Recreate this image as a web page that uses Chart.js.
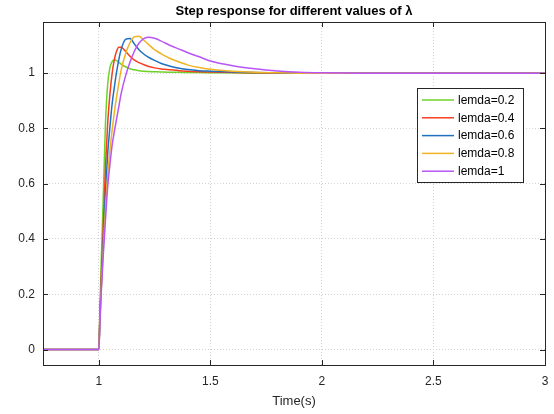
<!DOCTYPE html>
<html>
<head>
<meta charset="utf-8">
<script src="https://cdn.jsdelivr.net/npm/chart.js@4/dist/chart.umd.min.js"></script>
<style>
  html, body { margin: 0; padding: 0; background: #fff; }
  #wrap { width: 554px; height: 414px; }
</style>
</head>
<body>
<div id="wrap"><canvas id="c" width="554" height="414"></canvas></div>
<script>
const titleText = 'Step response for different values of \u03bb';
const xLabel = 'Time(s)';
const seriesLabels = ['lemda=0.2', 'lemda=0.4', 'lemda=0.6', 'lemda=0.8', 'lemda=1'];
const seriesColors = ['#6fd22b', '#f5401f', '#1f70c1', '#efb324', '#b855f7'];
const xTicks = [1, 1.5, 2, 2.5, 3];
const yTicks = [0, 0.2, 0.4, 0.6, 0.8, 1];

const time = [0.75, 1.0, 1.005, 1.01, 1.02, 1.03, 1.04, 1.05, 1.06, 1.07, 1.08, 1.09, 1.10, 1.12, 1.14, 1.16, 1.18, 1.20, 1.22, 1.25, 1.28, 1.32, 1.36, 1.40, 1.45, 1.50, 1.60, 1.70, 1.80, 1.90, 2.00, 2.20, 2.50, 3.00];
const lemda02 = [0, 0, 0.14, 0.29, 0.55, 0.82, 0.96, 1.02, 1.042, 1.048, 1.045, 1.039, 1.033, 1.023, 1.016, 1.012, 1.009, 1.007, 1.006, 1.005, 1.004, 1.003, 1.003, 1.002, 1.002, 1.001, 1.001, 1, 1, 1, 1, 1, 1, 1];
const lemda04 = [0, 0, 0.13, 0.24, 0.44, 0.66, 0.82, 0.925, 1.0, 1.05, 1.08, 1.094, 1.094, 1.079, 1.061, 1.047, 1.038, 1.031, 1.025, 1.019, 1.015, 1.012, 1.009, 1.007, 1.005, 1.004, 1.002, 1.001, 1, 1, 1, 1, 1, 1];
const lemda06 = [0, 0, 0.11, 0.21, 0.39, 0.57, 0.71, 0.805, 0.89, 0.95, 1.005, 1.05, 1.085, 1.122, 1.125, 1.105, 1.085, 1.07, 1.059, 1.046, 1.035, 1.025, 1.018, 1.013, 1.009, 1.007, 1.004, 1.002, 1.001, 1, 1, 1, 1, 1];
const lemda08 = [0, 0, 0.10, 0.20, 0.36, 0.51, 0.63, 0.72, 0.795, 0.86, 0.915, 0.965, 1.01, 1.07, 1.11, 1.132, 1.133, 1.12, 1.106, 1.085, 1.07, 1.053, 1.04, 1.029, 1.02, 1.014, 1.007, 1.003, 1.001, 1, 1, 1, 1, 1];
const lemda10 = [0, 0, 0.09, 0.19, 0.34, 0.47, 0.59, 0.67, 0.74, 0.79, 0.835, 0.88, 0.925, 0.99, 1.04, 1.08, 1.108, 1.124, 1.13, 1.126, 1.116, 1.10, 1.087, 1.074, 1.059, 1.044, 1.027, 1.016, 1.008, 1.003, 1.001, 1, 1, 1];
const seriesValues = [lemda02, lemda04, lemda06, lemda08, lemda10];

const FONT = '"Liberation Sans", Arial, Helvetica, sans-serif';
const AXIS = '#262626';

const datasets = seriesValues.map((vals, i) => ({
  label: seriesLabels[i],
  data: time.map((t, j) => ({ x: t, y: vals[j] })),
  borderColor: seriesColors[i],
  backgroundColor: seriesColors[i],
  borderWidth: 1.5,
  pointRadius: 0,
  cubicInterpolationMode: 'monotone',
  fill: false,
  order: seriesValues.length - 1 - i
}));

const matlabPlugin = {
  id: 'matlab',
  afterDraw(chart) {
    const ctx = chart.ctx;
    const a = chart.chartArea;
    const xs = chart.scales.x, ys = chart.scales.y;
    ctx.save();
    ctx.strokeStyle = AXIS;
    ctx.lineWidth = 1;
    ctx.strokeRect(Math.round(a.left) + 0.5, Math.round(a.top) + 0.5,
                   Math.round(a.right - a.left), Math.round(a.bottom - a.top));
    const tl = 5;
    ctx.beginPath();
    xTicks.forEach(v => {
      const px = Math.round(xs.getPixelForValue(v)) + 0.5;
      ctx.moveTo(px, a.bottom); ctx.lineTo(px, a.bottom - tl);
      ctx.moveTo(px, a.top); ctx.lineTo(px, a.top + tl);
    });
    yTicks.forEach(v => {
      const py = Math.round(ys.getPixelForValue(v)) + 0.5;
      ctx.moveTo(a.left, py); ctx.lineTo(a.left + tl, py);
      ctx.moveTo(a.right, py); ctx.lineTo(a.right - tl, py);
    });
    ctx.stroke();
    ctx.fillStyle = '#000';
    ctx.font = 'bold 13px ' + FONT;
    ctx.textAlign = 'center';
    ctx.textBaseline = 'middle';
    ctx.fillText(titleText, (a.left + a.right) / 2, 11);
    const lx = 417, ly = 88, lw = 106, lh = 94;
    ctx.fillStyle = '#fff';
    ctx.fillRect(lx, ly, lw, lh);
    ctx.strokeStyle = AXIS;
    ctx.strokeRect(lx + 0.5, ly + 0.5, lw, lh);
    ctx.font = '12px ' + FONT;
    ctx.textAlign = 'left';
    chart.data.datasets.forEach((ds, i) => {
      const y = ly + 12 + i * 17.8;
      ctx.strokeStyle = ds.borderColor;
      ctx.lineWidth = 1.5;
      ctx.beginPath();
      ctx.moveTo(lx + 5, y); ctx.lineTo(lx + 37, y);
      ctx.stroke();
      ctx.fillStyle = '#000';
      ctx.fillText(ds.label, lx + 41, y + 0.5);
    });
    ctx.restore();
  }
};

new Chart(document.getElementById('c'), {
  type: 'line',
  data: { datasets },
  options: {
    responsive: false,
    animation: false,
    events: [],
    layout: { padding: { top: 22, right: 9, left: 0, bottom: 0 } },
    plugins: { legend: { display: false }, tooltip: { enabled: false }, title: { display: false } },
    scales: {
      x: {
        type: 'linear',
        min: 0.75,
        max: 3,
        afterBuildTicks: s => { s.ticks = xTicks.map(v => ({ value: v })); },
        afterFit: s => { s.height = 49; s.paddingRight = 4; s.paddingLeft = 0; },
        grid: { color: '#d2d2d2', drawTicks: false, lineWidth: 1 },
        border: { display: false, dash: [1, 2] },
        ticks: { color: AXIS, font: { family: FONT, size: 12 }, padding: 9, maxRotation: 0,
                 callback: v => String(v) },
        title: { display: true, text: xLabel, color: AXIS, font: { family: FONT, size: 13 },
                 padding: { top: 0, bottom: 5 } }
      },
      y: {
        type: 'linear',
        min: -0.056,
        max: 1.185,
        afterBuildTicks: s => { s.ticks = yTicks.map(v => ({ value: v })); },
        afterFit: s => { s.width = 43; },
        grid: { color: '#d2d2d2', drawTicks: false, lineWidth: 1 },
        border: { display: false, dash: [1, 2] },
        ticks: { color: AXIS, font: { family: FONT, size: 12 }, padding: 8,
                 callback: v => String(v) }
      }
    }
  },
  plugins: [matlabPlugin]
});
</script>
</body>
</html>
